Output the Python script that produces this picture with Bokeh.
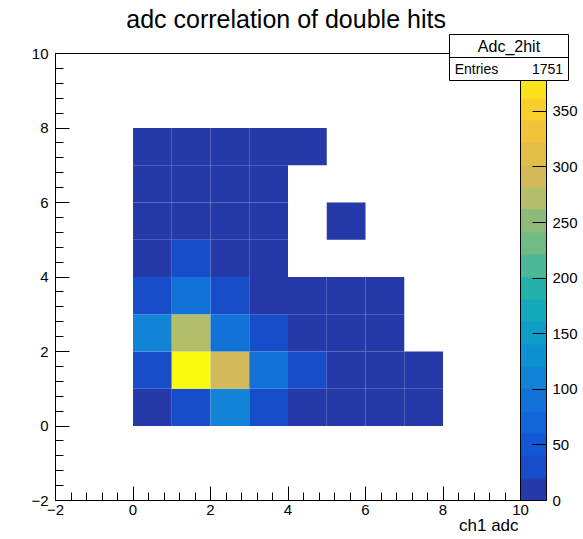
from bokeh.plotting import figure
from bokeh.models import (ColumnDataSource, LinearColorMapper, ColorBar, FixedTicker,
                          SingleIntervalTicker)
from bokeh.core.properties import value
from bokeh.embed import file_html
from bokeh.resources import INLINE

# ---- data: bin lower edges (x, y) and bin contents ----
bin_x = [0, 1, 2, 3, 4, 5, 6, 7,
         0, 1, 2, 3, 4, 5, 6, 7,
         0, 1, 2, 3, 4, 5, 6,
         0, 1, 2, 3, 4, 5, 6,
         0, 1, 2, 3,
         0, 1, 2, 3, 5,
         0, 1, 2, 3,
         0, 1, 2, 3, 4]
bin_y = [0, 0, 0, 0, 0, 0, 0, 0,
         1, 1, 1, 1, 1, 1, 1, 1,
         2, 2, 2, 2, 2, 2, 2,
         3, 3, 3, 3, 3, 3, 3,
         4, 4, 4, 4,
         5, 5, 5, 5, 5,
         6, 6, 6, 6,
         7, 7, 7, 7, 7]
counts = [5, 28, 105, 28, 8, 4, 2, 1,
          28, 385, 285, 85, 28, 8, 3, 1,
          105, 265, 85, 28, 8, 3, 1,
          28, 85, 28, 8, 3, 1, 1,
          8, 28, 6, 2,
          4, 5, 2, 1, 1,
          2, 3, 1, 1,
          1, 1, 1, 1, 1]
z_ticks = [0, 50, 100, 150, 200, 250, 300, 350]
z_max = 402
hist_name = "Adc_2hit"
entries = 1751
title_text = "adc correlation of double hits"
x_title = "ch1 adc"

palette = ["#2539a8", "#174dc8", "#1457d6", "#1366da", "#1272d8", "#1383d6", "#0e91d0",
           "#0f9dc8", "#16a8bc", "#22b2aa", "#4cb898", "#72bb85", "#8dba78", "#b4bd6a",
           "#d3b959", "#e4bc48", "#f0c33a", "#f9cd2a", "#fbe21a", "#f9fb0e"]

FONT = "Liberation Sans"

src = ColumnDataSource(dict(
    left=bin_x, right=[v + 1 for v in bin_x],
    bottom=bin_y, top=[v + 1 for v in bin_y], z=counts))

mapper = LinearColorMapper(palette=palette, low=0, high=z_max)

p = figure(width=583, height=539, x_range=(-2, 10), y_range=(-2, 10),
           output_backend="svg", toolbar_location=None,
           min_border_left=55, min_border_right=63, min_border_top=53, min_border_bottom=39)
p.background_fill_color = "white"
p.border_fill_color = "white"
p.outline_line_color = "black"
p.outline_line_width = 1
p.grid.visible = False

p.quad(left="left", right="right", bottom="bottom", top="top", source=src,
       fill_color={"field": "z", "transform": mapper}, line_color=None)

for ax in (p.xaxis[0], p.yaxis[0]):
    ax.ticker = SingleIntervalTicker(interval=2, num_minor_ticks=5)
    ax.major_tick_in = 14
    ax.major_tick_out = 0
    ax.minor_tick_in = 8
    ax.minor_tick_out = 0
    ax.axis_line_color = "black"
    ax.major_tick_line_color = "black"
    ax.minor_tick_line_color = "black"
    ax.major_label_text_font = FONT
    ax.major_label_text_font_size = "15px"
    ax.major_label_text_color = "black"
p.xaxis.major_label_standoff = 4
p.yaxis.major_label_standoff = 7

cb = ColorBar(color_mapper=mapper, ticker=FixedTicker(ticks=z_ticks), width=26,
              padding=0, margin=5, major_tick_in=14, major_tick_out=0,
              major_tick_line_color="black", bar_line_color="black",
              label_standoff=6, major_label_text_font=FONT,
              major_label_text_font_size="15px", major_label_text_color="black",
              minor_tick_line_color=None)
p.add_layout(cb, "right")

# stats box (drawn at overlay level so it is not clipped to the frame)
p.quad(left=[8.168, 8.168], right=[11.239, 11.239], bottom=[9.893, 9.275], top=[10.51, 9.893],
       fill_color="white", line_color="black", line_width=1, level="overlay")
p.text(x=[9.703], y=[10.2], text=[hist_name], text_align="center", text_baseline="middle",
       text_font=value(FONT), text_font_size="16px", text_color="black", level="overlay")
p.text(x=[8.30], y=[9.585], text=["Entries"], text_align="left", text_baseline="middle",
       text_font=value(FONT), text_font_size="14px", text_color="black", level="overlay")
p.text(x=[11.10], y=[9.585], text=[f"{entries}"], text_align="right", text_baseline="middle",
       text_font=value(FONT), text_font_size="14px", text_color="black", level="overlay")

# title and x axis title
p.text(x=[3.95], y=[10.93], text=[title_text], text_align="center", text_baseline="middle",
       text_font=value(FONT), text_font_size="25px", text_color="black", level="overlay")
p.text(x=[9.95], y=[-2.68], text=[x_title], text_align="right", text_baseline="middle",
       text_font=value(FONT), text_font_size="17px", text_color="black", level="overlay")

open("out.html", "w").write(file_html(p, INLINE))
